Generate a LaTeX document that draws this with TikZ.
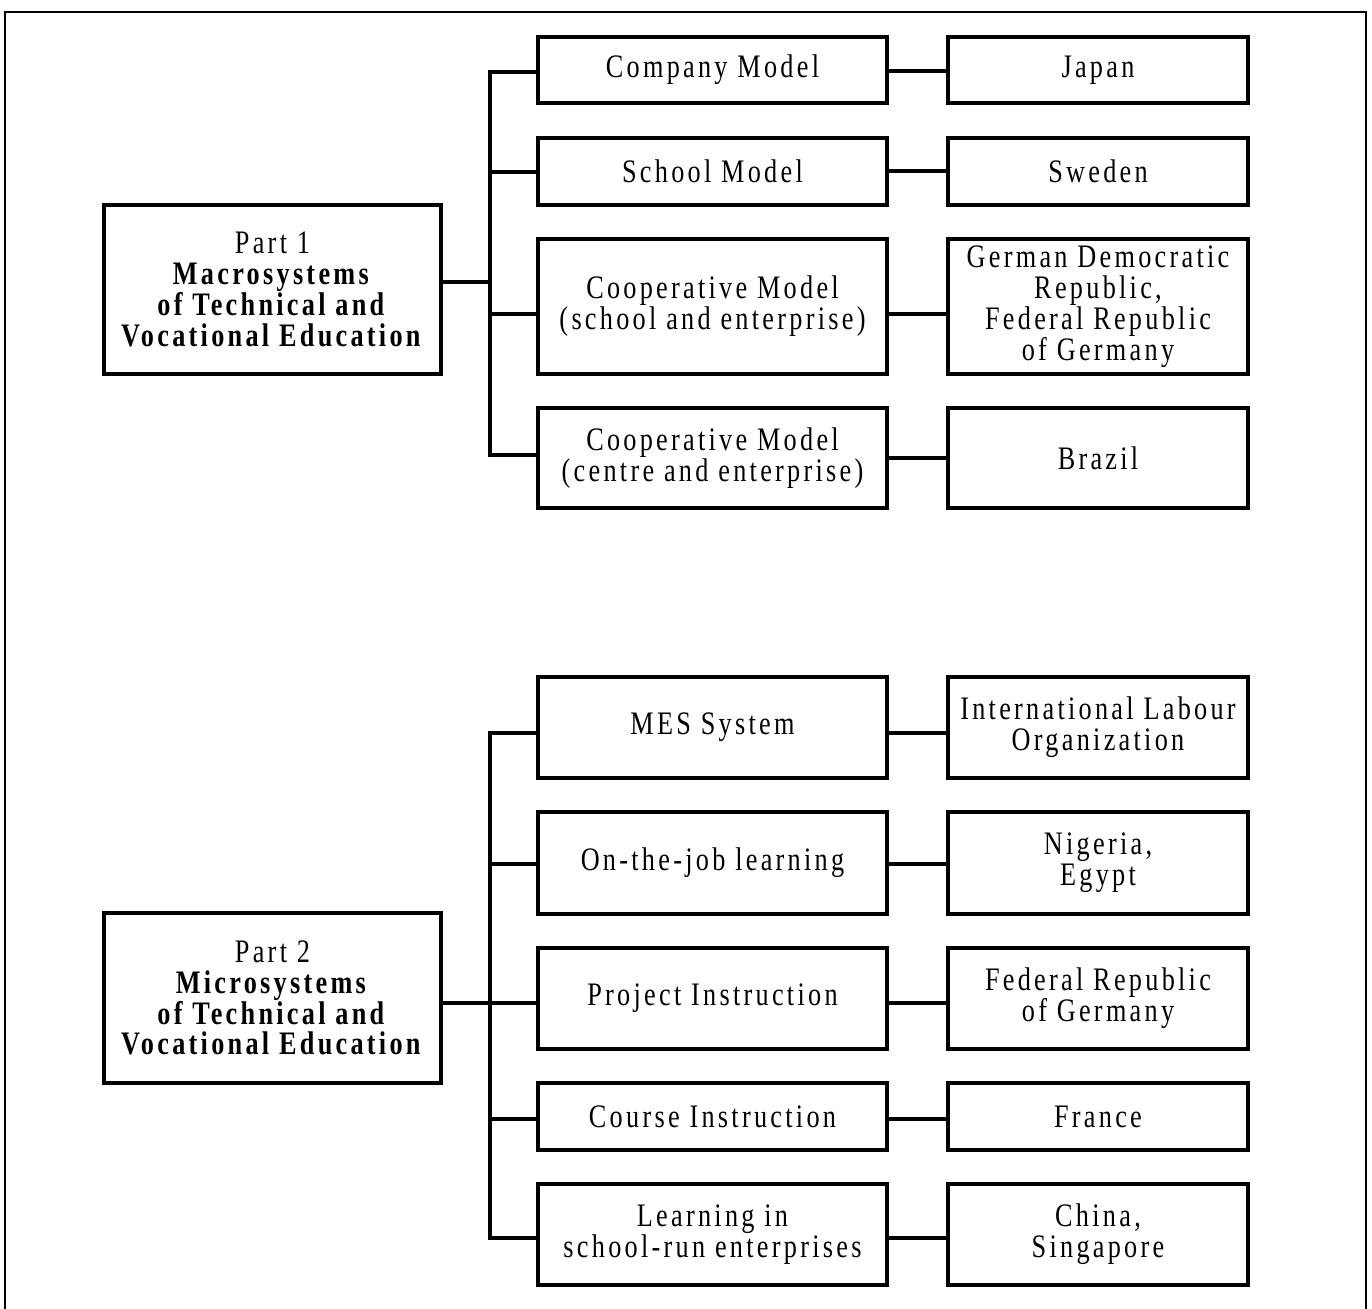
\documentclass[tikz,border=0pt]{standalone}
\usepackage{fontspec}
\setmainfont{Liberation Serif}[FakeStretch=0.8, LetterSpace=10]
\tikzset{
  box/.style={draw, line width=1.8pt, inner sep=0pt, align=center,
    font=\fontsize{16.4}{15.4}\selectfont},
  conn/.style={line width=1.8pt},
  frame/.style={line width=1.3pt}
}
% \bx{name}{x1}{y1}{x2}{y2}{text}
\newcommand{\bx}[6]{%
  \pgfmathsetmacro{\bw}{(#4-#2)*0.5}%
  \pgfmathsetmacro{\bh}{(#5-#3)*0.5}%
  \node[box, minimum width=\bw pt, minimum height=\bh pt] (#1) at ({(#2+#4)/2},{(#3+#5)/2}) {#6};%
}
\begin{document}
\begin{tikzpicture}[x=0.5pt,y=-0.5pt]
\useasboundingbox (0,0) rectangle (1372,1309);
\draw[frame] (5,1309) -- (5,12) -- (1366,12) -- (1366,1309);

% Part 1
\bx{pone}{104}{205}{441}{374}{Part 1\\ \textbf{Macrosystems}\\ \textbf{of Technical and}\\ \textbf{Vocational Education}}
\bx{company}{538}{37}{887}{103}{Company Model}
\bx{school}{538}{138}{887}{205}{School Model}
\bx{coopa}{538}{239}{887}{374}{Cooperative Model\\(school and enterprise)}
\bx{coopb}{538}{408}{887}{508}{Cooperative Model\\(centre and enterprise)}
\bx{japan}{948}{37}{1248}{103}{Japan}
\bx{sweden}{948}{138}{1248}{205}{Sweden}
\bx{gdr}{948}{239}{1248}{374}{German Democratic\\Republic,\\Federal Republic\\of Germany}
\bx{brazil}{948}{408}{1248}{508}{Brazil}

\coordinate (busa) at (490,282);
\draw[conn] (company.west |- 0,72) -| (busa |- 0,72) -- (busa |- 0,455) -- (coopb.west |- 0,455);
\draw[conn] (school.west |- 0,172) -- (busa |- 0,172);
\draw[conn] (coopa.west |- 0,314) -- (busa |- 0,314);
\draw[conn] (pone.east |- busa) -- (busa);
\draw[conn] (company.east |- 0,71) -- (japan.west |- 0,71);
\draw[conn] (school.east |- 0,171) -- (sweden.west |- 0,171);
\draw[conn] (coopa.east |- 0,314) -- (gdr.west |- 0,314);
\draw[conn] (coopb.east |- 0,458) -- (brazil.west |- 0,458);

% Part 2
\bx{ptwo}{104}{913}{441}{1083}{Part 2\\ \textbf{Microsystems}\\ \textbf{of Technical and}\\ \textbf{Vocational Education}}
\bx{mes}{538}{677}{887}{778}{MES System}
\bx{otj}{538}{812}{887}{914}{On-the-job learning}
\bx{proj}{538}{948}{887}{1049}{Project Instruction}
\bx{course}{538}{1083}{887}{1150}{Course Instruction}
\bx{learn}{538}{1184}{887}{1285}{Learning in\\school-run enterprises}
\bx{ilo}{948}{677}{1248}{778}{International Labour\\Organization}
\bx{nigeria}{948}{812}{1248}{914}{Nigeria,\\Egypt}
\bx{frg}{948}{948}{1248}{1049}{Federal Republic\\of Germany}
\bx{france}{948}{1083}{1248}{1150}{France}
\bx{china}{948}{1184}{1248}{1285}{China,\\Singapore}

\coordinate (busb) at (490,1003);
\draw[conn] (mes.west |- 0,733) -| (busb |- 0,733) -- (busb |- 0,1238) -- (learn.west |- 0,1238);
\draw[conn] (otj.west |- 0,864) -- (busb |- 0,864);
\draw[conn] (proj.west |- 0,1003) -- (busb);
\draw[conn] (course.west |- 0,1119) -- (busb |- 0,1119);
\draw[conn] (ptwo.east |- busb) -- (busb);
\draw[conn] (mes.east |- 0,733) -- (ilo.west |- 0,733);
\draw[conn] (otj.east |- 0,864) -- (nigeria.west |- 0,864);
\draw[conn] (proj.east |- 0,1003) -- (frg.west |- 0,1003);
\draw[conn] (course.east |- 0,1119) -- (france.west |- 0,1119);
\draw[conn] (learn.east |- 0,1238) -- (china.west |- 0,1238);
\end{tikzpicture}
\end{document}
